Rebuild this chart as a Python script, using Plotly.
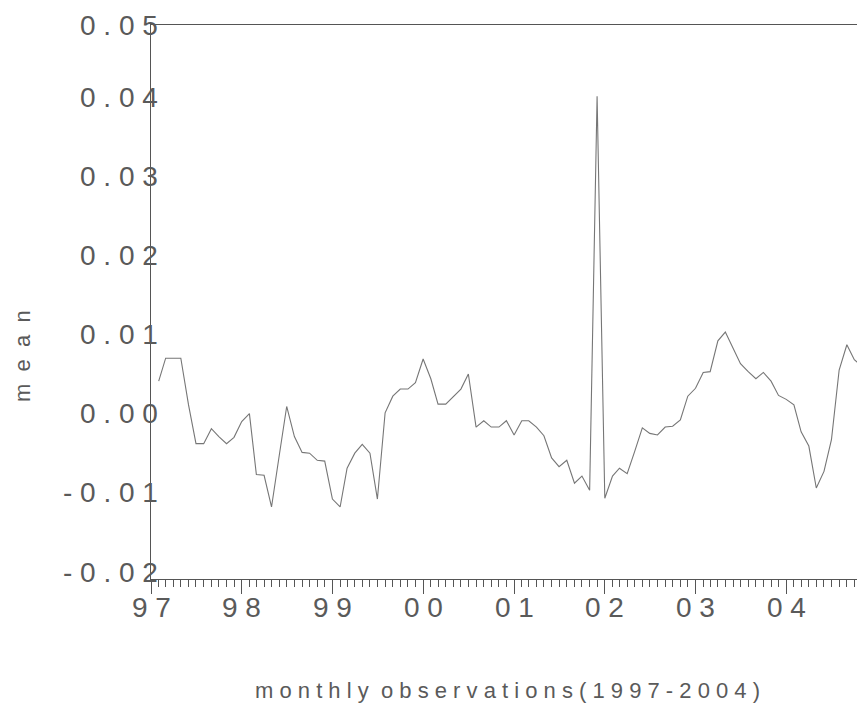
import pandas as pd
import plotly.graph_objects as go

# monthly observations, Feb 1997 .. Nov 2004 (visible part)
months = pd.date_range("1997-02-01", periods=94, freq="MS")
values = [
    0.0050, 0.0079, 0.0079, 0.0079, 0.0020, -0.0029, -0.0029, -0.0010, -0.0020, -0.0029, -0.0021,
    -0.0001, 0.0009, -0.0068, -0.0069, -0.0109, -0.0044, 0.0018, -0.0020, -0.0040, -0.0041, -0.0050,
    -0.0051, -0.0099, -0.0109, -0.0060, -0.0041, -0.0030, -0.0041, -0.0099, 0.0010, 0.0031, 0.0040,
    0.0040, 0.0048, 0.0078, 0.0053, 0.0021, 0.0021, 0.0031, 0.0040, 0.0059, -0.0008, 0.0000, -0.0008,
    -0.0008, 0.0000, -0.0018, 0.0000, 0.0000, -0.0008, -0.0019, -0.0047, -0.0058, -0.0050, -0.0079,
    -0.0070, -0.0088, 0.0410, -0.0098, -0.0070, -0.0060, -0.0067, -0.0039, -0.0009, -0.0016, -0.0018,
    -0.0008, -0.0007, 0.0001, 0.0031, 0.0041, 0.0061, 0.0062, 0.0101, 0.0112, 0.0092, 0.0072, 0.0062,
    0.0053, 0.0061, 0.0050, 0.0032, 0.0027, 0.0020, -0.0014, -0.0032, -0.0085, -0.0064, -0.0024,
    0.0064, 0.0096, 0.0077, 0.0069,
]

year_ticks = ["1997-01-01", "1998-01-01", "1999-01-01", "2000-01-01",
              "2001-01-01", "2002-01-01", "2003-01-01", "2004-01-01"]
year_labels = ["97", "98", "99", "00", "01", "02", "03", "04"]
y_ticks = [0.05, 0.04, 0.03, 0.02, 0.01, 0.00, -0.01, -0.02]
y_labels = ["0.05", "0.04", "0.03", "0.02", "0.01", "0.00", "-0.01", "-0.02"]

NB = "\u00a0"


def spaced(s, sep=NB):
    return sep.join(list(s))


TEXT = "#5a5a5a"
AX = "#555555"
FONT = "Liberation Sans, Arial, sans-serif"

# page has an 8px body margin; size the figure so the plot box lands where the reference has it
W, H = 857, 708
L, T, B = 143, 17, 137
PW = W - L
PH = H - T - B

fig = go.Figure()
fig.add_trace(go.Scatter(
    x=months, y=values, mode="lines",
    line=dict(color="#767676", width=1.1),
    showlegend=False, hoverinfo="skip",
))

fig.update_layout(
    width=W, height=H,
    margin=dict(l=L, r=0, t=T, b=B),
    paper_bgcolor="white", plot_bgcolor="white",
    font=dict(family=FONT, color=TEXT),
    xaxis=dict(
        type="date",
        range=["1997-01-01", "2004-11-13"],
        showgrid=False, zeroline=False,
        showline=True, linecolor=AX, linewidth=1.2, mirror=True,
        ticks="outside", ticklen=14, tickwidth=1, tickcolor=AX,
        tickvals=year_ticks,
        showticklabels=False,
        minor=dict(ticks="outside", ticklen=7, tickcolor=AX, dtick="M1",
                   tick0="1997-01-01", showgrid=False),
    ),
    yaxis=dict(
        range=[-0.02, 0.05],
        showgrid=False, zeroline=False,
        showline=True, linecolor=AX, linewidth=1.2,
        ticks="", showticklabels=False,
    ),
)

for v, lab in zip(y_ticks, y_labels):
    fig.add_annotation(
        x=0, xref="paper", y=v, yref="y",
        xanchor="right", yanchor="middle",
        xshift=9, yshift=(0 if v == max(y_ticks) else 7),
        text=spaced(lab), showarrow=False,
        font=dict(size=28, color=TEXT, family=FONT),
    )

for t, lab in zip(year_ticks, year_labels):
    fig.add_annotation(
        x=t, xref="x", y=0, yref="paper",
        xanchor="center", yanchor="middle",
        yshift=-28,
        text=spaced(lab), showarrow=False,
        font=dict(size=28, color=TEXT, family=FONT),
    )

fig.add_annotation(
    x=(22 - 8 - L) / PW, xref="paper", y=1 - (356 - 8 - T) / PH, yref="paper",
    xanchor="center", yanchor="middle",
    text=(NB * 2).join(list("mean")), textangle=-90, showarrow=False,
    font=dict(size=22, color=TEXT, family=FONT),
)

fig.add_annotation(
    x=(507 - 8 - L) / PW, xref="paper", y=1 - (690 - 8 - T) / PH, yref="paper",
    xanchor="center", yanchor="middle",
    text=spaced("monthly") + NB + NB + spaced("observations(1997-2004)"),
    showarrow=False,
    font=dict(size=22, color=TEXT, family=FONT),
)

fig.write_html("out.html")
